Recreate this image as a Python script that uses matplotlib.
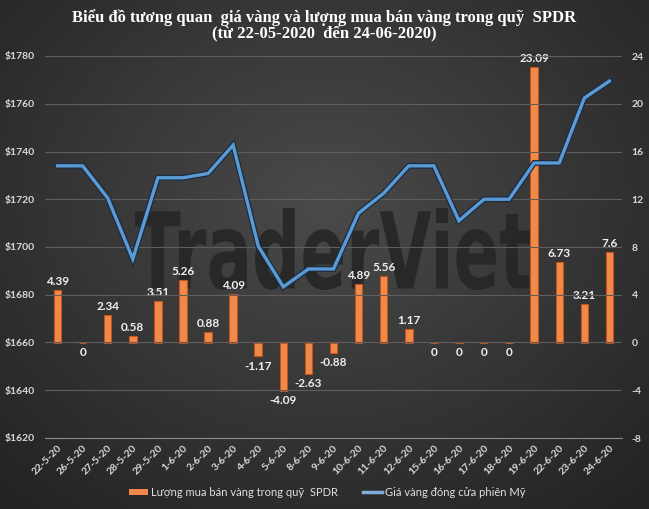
import numpy as np
import matplotlib
matplotlib.use("Agg")
import matplotlib.pyplot as plt
from matplotlib import patheffects as pe
from matplotlib.textpath import TextPath
from matplotlib.patches import PathPatch, Patch
from matplotlib.lines import Line2D
from matplotlib.font_manager import FontProperties
from matplotlib.transforms import Affine2D

dates = ["22-5-20", "26-5-20", "27-5-20", "28-5-20", "29-5-20", "1-6-20", "2-6-20",
         "3-6-20", "4-6-20", "5-6-20", "8-6-20", "9-6-20", "10-6-20", "11-6-20",
         "12-6-20", "15-6-20", "16-6-20", "17-6-20", "18-6-20", "19-6-20", "22-6-20",
         "23-6-20", "24-6-20"]
flows = [4.39, 0, 2.34, 0.58, 3.51, 5.26, 0.88, 4.09, -1.17, -4.09, -2.63, -0.88,
         4.89, 5.56, 1.17, 0, 0, 0, 0, 23.09, 6.73, 3.21, 7.6]
prices = [1734, 1734, 1720.5, 1695, 1729, 1729, 1730.8, 1742.7, 1700.4, 1683.3,
          1690.8, 1690.8, 1714.2, 1722.5, 1734, 1734, 1711, 1720, 1720, 1735.2,
          1735.2, 1762.4, 1769.5]
price_ticks = [1620, 1640, 1660, 1680, 1700, 1720, 1740, 1760, 1780]
flow_ticks = [-8, -4, 0, 4, 8, 12, 16, 20, 24]

title = "Biểu đồ tương quan  giá vàng và lượng mua bán vàng trong quỹ  SPDR\n(từ 22-05-2020  đến 24-06-2020)"
bar_label = "Lượng mua bán vàng trong quỹ  SPDR"
line_label = "Giá vàng đóng cửa phiên Mỹ"

W, H = 649, 509
fig = plt.figure(figsize=(W / 100, H / 100), dpi=100)

# background radial gradient
bg = fig.add_axes([0, 0, 1, 1], zorder=-10)
yy, xx = np.mgrid[0:1:300j, 0:1:400j]
r = np.sqrt(((xx - 0.5) / 0.75) ** 2 + ((yy - 0.4) / 0.8) ** 2)
r = np.clip(r, 0, 1)
c0 = np.array([0x4a, 0x4a, 0x4a]) / 255
c1 = np.array([0x22, 0x22, 0x22]) / 255
img = c0[None, None, :] * (1 - r[..., None]) + c1[None, None, :] * r[..., None]
bg.imshow(img, extent=[0, 1, 0, 1], aspect="auto", origin="upper")
bg.set_xlim(0, 1); bg.set_ylim(0, 1)
bg.axis("off")

# watermark
fp = FontProperties(family="DejaVu Sans", weight="bold")
tp = TextPath((0, 0), "TraderViet", size=1, prop=fp)
ext = tp.get_extents()
x0, x1 = 135 / W, 530 / W
y0, y1 = 1 - 290 / H, 1 - 208 / H
sx = (x1 - x0) / ext.width
sy = (y1 - y0) / ext.height
tr = Affine2D().translate(-ext.x0, -ext.y0).scale(sx, sy).translate(x0, y0)
bg.add_patch(PathPatch(tr.transform_path(tp), facecolor="#262626", edgecolor="none", alpha=0.9))

left, right = 45 / W, 622 / W
top, bottom = 1 - 56 / H, 1 - 438 / H
ax = fig.add_axes([left, bottom, right - left, top - bottom])
axb = ax.twinx()
ax.set_zorder(2)
axb.set_zorder(1)
ax.patch.set_visible(False)
axb.patch.set_visible(False)

x = np.arange(len(dates))
tick_font = dict(family=["Lato", "DejaVu Sans"], weight="bold")
tc = "#d8d8d8"

# bars on secondary axis
axb.bar(x, flows, width=0.3, color="#F08A4B", edgecolor="#C4541C", linewidth=0.8, zorder=3)
axb.set_ylim(-8, 24)
axb.set_yticks(flow_ticks)
axb.set_yticklabels([str(t) for t in flow_ticks], color=tc, fontsize=7.5, **tick_font)
for xi, v in zip(x, flows):
    lab = f"{v:g}"
    if v > 0:
        axb.annotate(lab, (xi, v), xytext=(0, 2), textcoords="offset points",
                     ha="center", va="bottom", color="#f0f0f0", fontsize=8.5, zorder=5, **tick_font)
    else:
        axb.annotate(lab, (xi, v), xytext=(0, -3), textcoords="offset points",
                     ha="center", va="top", color="#f0f0f0", fontsize=8.5, zorder=5, **tick_font)

# line on primary axis
ax.plot(x, prices, color="#5B9BD5", lw=2.4, solid_joinstyle="miter", zorder=4,
        path_effects=[pe.Stroke(linewidth=4.2, foreground="#1c2c40"), pe.Normal()])
ax.set_ylim(1620, 1780)
ax.set_yticks(price_ticks)
ax.set_yticklabels([f"${t}" for t in price_ticks], color=tc, fontsize=7.5, **tick_font)
ax.set_xlim(-0.5, len(dates) - 0.5)
ax.set_xticks(x)
ax.set_xticklabels(dates, rotation=45, ha="right", rotation_mode="anchor",
                   color=tc, fontsize=7.5, **tick_font)
ax.grid(axis="y", color="#5e5e5e", lw=0.8)
ax.set_axisbelow(True)
for a in (ax, axb):
    for s in a.spines.values():
        s.set_visible(False)
    a.tick_params(length=0)
ax.spines["bottom"].set_visible(True)
ax.spines["bottom"].set_color("#8a8a8a")
ax.tick_params(axis="y", pad=7)
ax.tick_params(axis="x", pad=4)
axb.tick_params(axis="y", pad=7)

fig.text(0.5, 1 - 26 / H, title, ha="center", va="center", color="white",
         fontsize=12, fontweight="bold", family=["Liberation Serif", "DejaVu Serif"],
         linespacing=1.05)

# legend
handles = [Patch(facecolor="#F08A4B", edgecolor="none"),
           Line2D([0], [0], color="#7FAEDC", lw=2.5)]
leg = fig.legend(handles, [bar_label, line_label], loc="center",
                 bbox_to_anchor=(327 / W, 1 - 492 / H), ncol=2, frameon=False,
                 prop=dict(family=["Lato", "DejaVu Sans"], size=8),
                 handlelength=1.7, handleheight=0.45, columnspacing=2.3, handletextpad=0.25)
for t in leg.get_texts():
    t.set_color("#e0e0e0")

fig.savefig("out.png", dpi=100)
